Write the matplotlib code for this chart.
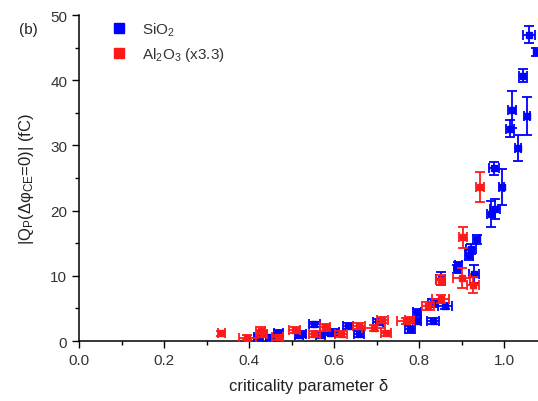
import numpy as np
import matplotlib
matplotlib.use("Agg")
import matplotlib.pyplot as plt
from matplotlib.lines import Line2D
from matplotlib.ticker import MultipleLocator

plt.rcParams['font.family'] = ['Liberation Sans', 'DejaVu Sans']
plt.rcParams['mathtext.fontset'] = 'custom'
plt.rcParams['mathtext.rm'] = 'Liberation Sans'
plt.rcParams['mathtext.it'] = 'Liberation Sans:italic'

# SiO2 data: criticality parameter, charge (fC), errors
sio2_x = [0.422, 0.450, 0.469, 0.517, 0.525, 0.554, 0.568, 0.590, 0.601, 0.632,
          0.658, 0.703, 0.778, 0.795, 0.795, 0.833, 0.833, 0.861, 0.851, 0.890,
          0.892, 0.929, 0.918, 0.923, 0.936, 0.969, 0.978, 0.976, 0.995, 1.014,
          1.019, 1.033, 1.045, 1.054, 1.059, 1.076]
sio2_y = [0.6, 0.6, 1.2, 0.9, 1.1, 2.6, 0.9, 1.3, 1.4, 2.3,
          1.1, 2.9, 1.8, 3.1, 4.4, 3.1, 5.8, 5.4, 9.6, 11.0,
          11.6, 10.3, 13.2, 14.1, 15.6, 19.5, 20.3, 26.5, 23.6, 32.6,
          35.5, 29.6, 40.7, 34.5, 47.0, 44.4]
sio2_xerr = [0.010, 0.010, 0.010, 0.010, 0.010, 0.012, 0.010, 0.012, 0.010, 0.012,
             0.012, 0.012, 0.012, 0.010, 0.010, 0.014, 0.012, 0.016, 0.010, 0.008,
             0.008, 0.012, 0.010, 0.012, 0.008, 0.010, 0.012, 0.012, 0.006, 0.010,
             0.010, 0.006, 0.010, 0.006, 0.014, 0.006]
sio2_yerr = [0.4, 0.4, 0.5, 0.4, 0.4, 0.4, 0.4, 0.4, 0.4, 0.4,
             0.4, 0.5, 0.5, 0.4, 0.5, 0.5, 0.6, 0.5, 1.0, 0.6,
             0.6, 1.4, 0.8, 0.8, 0.7, 2.0, 1.5, 1.0, 2.8, 1.3,
             2.8, 2.0, 1.0, 2.9, 1.3, 0.6]

# Al2O3 data, scaled by 3.3
al2o3_x = [0.335, 0.396, 0.427, 0.432, 0.467, 0.507, 0.554, 0.578, 0.617, 0.658,
           0.693, 0.714, 0.722, 0.769, 0.778, 0.821, 0.851, 0.851, 0.901, 0.927,
           0.903, 0.943]
al2o3_y = [1.2, 0.5, 1.6, 1.1, 0.6, 1.7, 1.1, 2.1, 1.1, 2.3,
           2.0, 3.2, 1.2, 3.1, 3.2, 5.4, 6.4, 9.4, 9.7, 8.6,
           15.9, 23.6]
al2o3_xerr = [0.008, 0.020, 0.010, 0.010, 0.012, 0.012, 0.014, 0.012, 0.014, 0.014,
              0.028, 0.012, 0.012, 0.020, 0.010, 0.014, 0.020, 0.010, 0.020, 0.014,
              0.010, 0.010]
al2o3_yerr = [0.4, 0.4, 0.5, 0.4, 0.4, 0.4, 0.4, 0.5, 0.4, 0.5,
              0.4, 0.5, 0.4, 0.5, 0.5, 0.6, 0.6, 0.8, 1.5, 1.2,
              1.6, 2.3]

blue = '#0000ff'
red = '#ff1a1a'

fig = plt.figure(figsize=(5.38, 4.02), dpi=100)
ax = fig.add_axes([0.147, 0.149, 0.853, 0.811])

ax.errorbar(sio2_x, sio2_y, xerr=sio2_xerr, yerr=sio2_yerr, fmt='s', color=blue,
            ms=4.5, elinewidth=1.3, capsize=3.5, capthick=1.3, zorder=3)
ax.errorbar(al2o3_x, al2o3_y, xerr=al2o3_xerr, yerr=al2o3_yerr, fmt='s', color=red,
            ms=4.5, elinewidth=1.3, capsize=3.5, capthick=1.3, zorder=4)

ax.set_xlim(0, 1.08)
ax.set_ylim(0, 50)
ax.xaxis.set_major_locator(MultipleLocator(0.2))
ax.xaxis.set_minor_locator(MultipleLocator(0.1))
ax.yaxis.set_major_locator(MultipleLocator(10))
ax.yaxis.set_minor_locator(MultipleLocator(5))
ax.tick_params(which='major', direction='out', length=5, width=1,
               labelsize=11, labelcolor='#333333')
ax.tick_params(which='minor', direction='out', length=3, width=1)
ax.spines['top'].set_visible(False)
ax.spines['right'].set_visible(False)
for s in ('left', 'bottom'):
    ax.spines[s].set_linewidth(1.1)

ax.set_xlabel('criticality parameter δ', fontsize=12, color='#222222', labelpad=8)
ax.set_ylabel(r'|Q$_{\mathrm{P}}$(Δφ$_{\mathrm{CE}}$=0)| (fC)', fontsize=12,
              color='#222222', labelpad=10)

fig.text(0.052, 0.925, '(b)', fontsize=11, color='#222222', va='center', ha='center')

handles = [Line2D([], [], ls='none', marker='s', ms=7, color=blue),
           Line2D([], [], ls='none', marker='s', ms=7, color=red)]
ax.legend(handles, ['SiO$_2$', 'Al$_2$O$_3$ (x3.3)'], loc='upper left',
          bbox_to_anchor=(0.04, 1.025), frameon=False, fontsize=11,
          handlelength=1.0, handletextpad=1.0, labelspacing=0.45,
          labelcolor='#333333')

fig.savefig('out.png', dpi=100)
